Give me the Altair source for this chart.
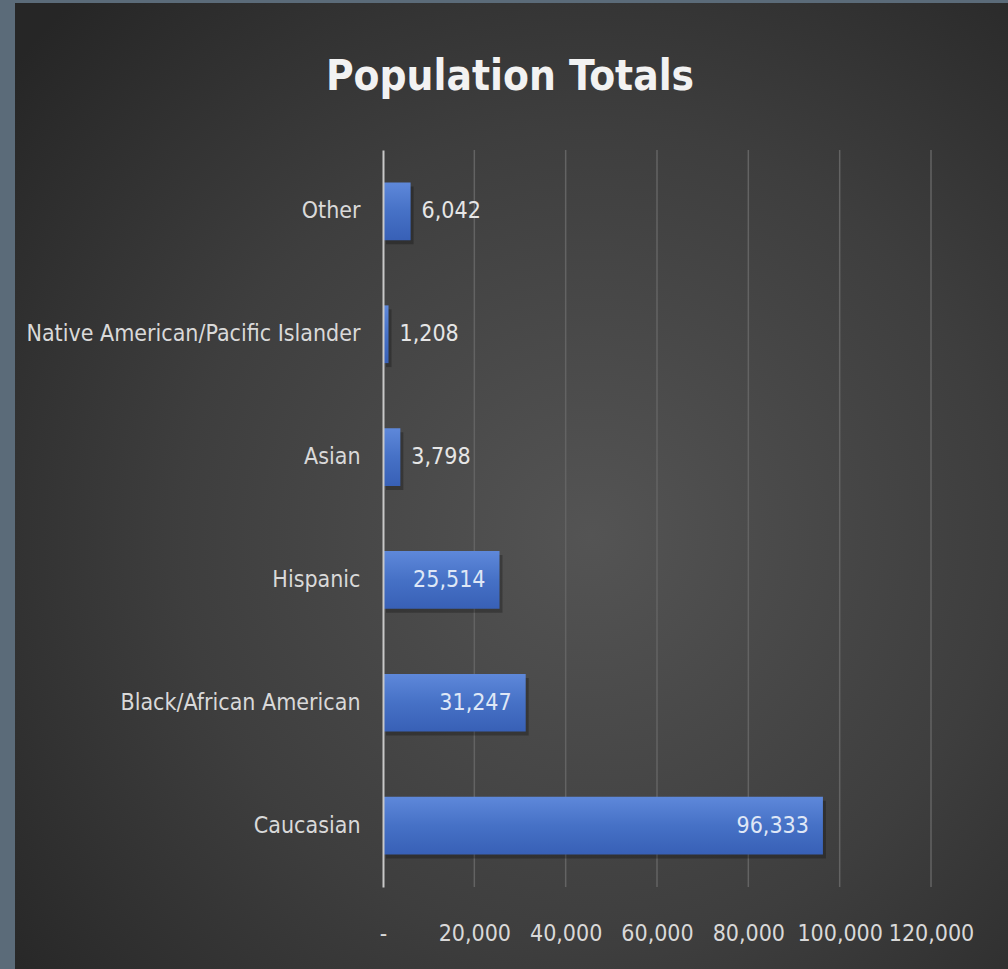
import altair as alt
import pandas as pd

categories = ["Other", "Native American/Pacific Islander", "Asian", "Hispanic",
              "Black/African American", "Caucasian"]
values = [6042, 1208, 3798, 25514, 31247, 96333]
ticks = [0, 20000, 40000, 60000, 80000, 100000, 120000]
title_text = "Population Totals"

df = pd.DataFrame({"category": categories, "value": values})
tick_df = pd.DataFrame({"value": ticks})
one = pd.DataFrame({"a": [0]})

FONT = "DejaVu Sans Condensed, sans-serif"
LS = 23
W, H = 548, 737
PL, PT, PR, PB = 383, 150, 77, 82

xscale = alt.Scale(domain=[0, 120000], nice=False)
yscale = alt.Scale(domain=categories, paddingInner=0.53, paddingOuter=0.265)

xaxis = alt.Axis(values=ticks, grid=False, domain=False, ticks=False, title=None,
                 labelExpr="datum.value == 0 ? '-' : format(datum.value, ',')",
                 labelFont=FONT, labelFontSize=LS, labelColor="#d9d9d9",
                 labelPadding=35, zindex=1, labelFlush=False)
yaxis = alt.Axis(title=None, ticks=False, domainColor="#c8c8c8", domainWidth=2,
                 labelFont=FONT, labelFontSize=LS, labelColor="#d9d9d9",
                 labelPadding=23, zindex=1, labelLimit=400)

X = alt.X("value:Q", scale=xscale, axis=xaxis)
Y = alt.Y("category:N", scale=yscale, sort=categories, axis=yaxis)

bg = alt.Chart(one).mark_rect(
    fill={"gradient": "radial", "x1": 0.58, "y1": 0.55, "r1": 0,
          "x2": 0.58, "y2": 0.55, "r2": 0.75,
          "stops": [{"offset": 0, "color": "#545454"},
                    {"offset": 0.55, "color": "#3e3e3e"},
                    {"offset": 1, "color": "#262626"}]}
).encode(x=alt.value(15 - PL), x2=alt.value(W + PR), y=alt.value(3 - PT), y2=alt.value(H + PB))

grid = alt.Chart(tick_df).transform_filter("datum.value > 0").mark_rule(
    color="#636363", strokeWidth=1.5
).encode(x=X)

shadow = alt.Chart(df).mark_bar(color="#000000", opacity=0.25, xOffset=3, yOffset=4).encode(x=X, y=Y)

bars = alt.Chart(df).mark_bar(
    fill={"gradient": "linear", "x1": 0, "y1": 0, "x2": 0, "y2": 1,
          "stops": [{"offset": 0, "color": "#5e88da"},
                    {"offset": 0.5, "color": "#4671c6"},
                    {"offset": 1, "color": "#3860b6"}]}
).encode(x=X, y=Y)

text_out = alt.Chart(df).transform_filter("datum.value < 20000").mark_text(
    align="left", baseline="middle", dx=11, font=FONT, fontSize=LS, color="#e6e6e6"
).encode(x=X, y=Y, text=alt.Text("value:Q", format=","))

text_in = alt.Chart(df).transform_filter("datum.value >= 20000").mark_text(
    align="right", baseline="middle", dx=-14, font=FONT, fontSize=LS, color="#dfe7f6"
).encode(x=X, y=Y, text=alt.Text("value:Q", format=","))

title = alt.Chart(one).mark_text(
    align="center", baseline="alphabetic", font=FONT, fontSize=42, fontWeight="bold",
    color="#f2f2f2"
).encode(x=alt.value(510 - PL), y=alt.value(90 - PT), text=alt.value(title_text))

chart = alt.layer(bg, grid, shadow, bars, text_out, text_in, title).properties(
    width=W, height=H, autosize="none",
    padding={"left": PL, "top": PT, "right": PR, "bottom": PB},
    background="#5b6b79",
).configure_view(stroke=None)

chart.save("out.html", embed_options={"renderer": "svg", "actions": False})
